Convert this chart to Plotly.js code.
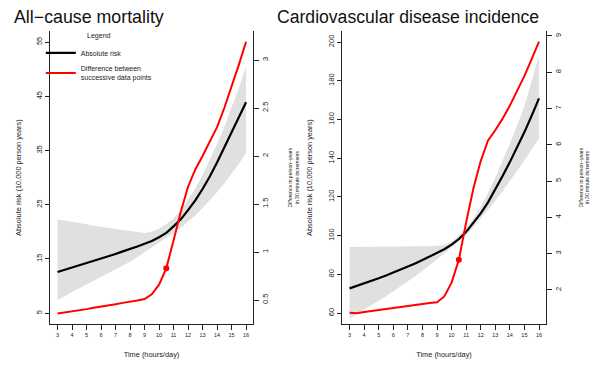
<!DOCTYPE html>
<html>
<head>
<meta charset="utf-8">
<script src="https://cdn.plot.ly/plotly-3.0.1.min.js"></script>
<style>html,body{margin:0;padding:0;background:#fff;}#chart{width:600px;height:365px;}</style>
</head>
<body>
<div id="chart"></div>
<script>
// Hours of sitting per day (half-hour steps)
const hours = [3,3.5,4,4.5,5,5.5,6,6.5,7,7.5,8,8.5,9,9.5,10,10.5,11,11.5,12,12.5,13,13.5,14,14.5,15,15.5,16];
const xTicks = [3,4,5,6,7,8,9,10,11,12,13,14,15,16];
const markHour = 10.5;

// All-cause mortality: absolute risk (per 10,000 person years) and 95% band
const mortRisk  = [12.6,13.0,13.5,13.9,14.3,14.7,15.1,15.5,15.9,16.4,16.8,17.3,17.8,18.3,19.0,19.8,21.0,22.3,24.0,25.8,27.9,30.2,32.8,35.5,38.4,41.1,43.9];
const mortUpper = [22.3,22.1,21.9,21.6,21.4,21.1,20.9,20.7,20.5,20.3,20.1,19.9,19.8,20.0,20.6,21.4,22.5,24.0,25.9,28.0,30.5,33.2,36.2,39.4,42.8,46.5,50.5];
const mortLower = [7.4,8.2,8.9,9.6,10.3,11.0,11.6,12.3,13.0,13.7,14.5,15.3,16.3,17.1,18.0,18.8,19.7,20.7,21.9,23.0,24.4,25.8,27.3,28.9,30.6,32.5,34.5];
// Difference between successive data points (per 30 min increments)
const mortDiff  = [0.36,0.37,0.38,0.39,0.405,0.42,0.43,0.445,0.455,0.47,0.48,0.495,0.51,0.56,0.66,0.83,1.12,1.42,1.68,1.86,2.0,2.15,2.3,2.5,2.72,2.95,3.19];

// Cardiovascular disease incidence
const cvdRisk  = [72.8,74.0,75.3,76.6,78.0,79.4,80.9,82.4,84.0,85.7,87.4,89.2,91.0,93.0,95.4,98.3,102.0,106.5,111.5,117.2,123.8,130.8,138.0,145.5,153.5,162.0,170.9];
const cvdUpper = [94.2,94.2,94.2,94.2,94.2,94.2,94.2,94.3,94.3,94.4,94.5,94.6,94.8,95.2,97.0,100.0,104.0,109.0,115.0,122.0,130.0,138.5,147.5,157.0,167.0,180.0,193.0];
const cvdLower = [57.3,59.5,61.8,64.0,66.4,68.8,71.3,73.8,76.3,79.0,81.8,84.8,88.0,91.0,93.6,97.0,100.3,104.3,108.9,113.3,118.0,123.0,128.0,133.5,139.0,144.5,150.2];
const cvdDiff  = [1.37,1.36,1.39,1.42,1.45,1.48,1.51,1.54,1.57,1.59,1.62,1.64,1.66,1.82,2.2,2.83,3.86,4.8,5.55,6.12,6.4,6.72,7.08,7.5,7.9,8.37,8.84];

const FONT = 'Liberation Sans, Arial, sans-serif';
const BAND = '#e0e0e0';
const RED = '#ff0000';
const mi = hours.indexOf(markHour);

function panel(xa, ya, ya2, risk, up, lo, diff, legend) {
  return [
    {x: hours, y: lo, xaxis: xa, yaxis: ya, type: 'scatter', mode: 'lines', line: {width: 0, color: BAND}, showlegend: false, hoverinfo: 'skip'},
    {x: hours, y: up, xaxis: xa, yaxis: ya, type: 'scatter', mode: 'lines', fill: 'tonexty', fillcolor: BAND, line: {width: 0, color: BAND}, showlegend: false, hoverinfo: 'skip'},
    {x: hours, y: risk, xaxis: xa, yaxis: ya, type: 'scatter', mode: 'lines', name: 'Absolute risk', line: {color: '#000000', width: 2.2}, showlegend: legend},
    {x: hours, y: diff, xaxis: xa, yaxis: ya2, type: 'scatter', mode: 'lines', name: 'Difference between<br>successive data points', line: {color: RED, width: 2}, showlegend: legend},
    {x: [hours[mi]], y: [diff[mi]], xaxis: xa, yaxis: ya2, type: 'scatter', mode: 'markers', marker: {color: RED, size: 6}, showlegend: false}
  ];
}

const data = [].concat(
  panel('x', 'y', 'y2', mortRisk, mortUpper, mortLower, mortDiff, true),
  panel('x2', 'y3', 'y4', cvdRisk, cvdUpper, cvdLower, cvdDiff, false)
);

const yDom = [0.1123, 0.9145];
const common = {showline: true, linecolor: '#222', linewidth: 1, ticks: 'outside', ticklen: 4, tickcolor: '#222', showgrid: false, zeroline: false};
function xax(dom, anchor) {
  return Object.assign({}, common, {domain: dom, anchor: anchor, range: [2.48, 16.48], tickvals: xTicks, ticktext: xTicks.map(String), tickfont: {size: 5.5, color: '#222', family: FONT}, ticklen: 5,
    title: {text: 'Time (hours/day)', font: {size: 7.4, color: '#222', family: FONT}, standoff: 15}});
}
function yleft(anchor, range, vals, std) {
  return Object.assign({}, common, {domain: yDom, anchor: anchor, range: range, tickvals: vals, tickangle: -90, tickfont: {size: 7.5, color: '#222', family: FONT},
    title: {text: 'Absolute risk (10,000 person years)', font: {size: 7.4, color: '#222', family: FONT}, standoff: std}});
}
function yright(anchor, over, range, vals, std) {
  return Object.assign({}, common, {anchor: anchor, overlaying: over, side: 'right', range: range, tickvals: vals, tickangle: -90, ticklen: 5, tickfont: {size: 7.5, color: '#222', family: FONT},
    title: {text: 'Difference in person\u2212years<br>in 30 minute increments', font: {size: 5, color: '#222', family: FONT}, standoff: std}});
}

const layout = {
  width: 600, height: 365,
  margin: {l: 0, r: 0, t: 0, b: 0},
  paper_bgcolor: '#ffffff', plot_bgcolor: 'rgba(0,0,0,0)',
  font: {family: FONT, color: '#222'},
  showlegend: true,
  legend: {x: 0.068, y: 0.92, xanchor: 'left', yanchor: 'top', bgcolor: 'rgba(0,0,0,0)', borderwidth: 0, traceorder: 'normal',
    font: {size: 7, color: '#222', family: FONT}, itemwidth: 30, tracegroupgap: 0,
    title: {text: 'Legend', side: 'top center', font: {size: 7, color: '#222', family: FONT}}},
  xaxis: xax([0.0833, 0.4217], 'y'),
  yaxis: yleft('x', [3, 57], [5, 15, 25, 35, 45, 55], 12),
  yaxis2: yright('x', 'y', [0.25, 3.3], [0.5, 1.0, 1.5, 2.0, 2.5, 3.0], 19),
  xaxis2: xax([0.57, 0.91], 'y3'),
  yaxis3: yleft('x2', [54.4, 205.6], [60, 80, 100, 120, 140, 160, 180, 200], 13),
  yaxis4: yright('x2', 'y3', [1.06, 9.13], [2, 3, 4, 5, 6, 7, 8, 9], 17),
  annotations: [
    {text: 'All\u2212cause mortality', xref: 'paper', yref: 'paper', x: 12/600, y: 1 - 17/365, xanchor: 'left', yanchor: 'middle', showarrow: false, font: {size: 17.8, color: '#111', family: FONT}},
    {text: 'Cardiovascular disease incidence', xref: 'paper', yref: 'paper', x: 275/600, y: 1 - 17/365, xanchor: 'left', yanchor: 'middle', showarrow: false, font: {size: 17.6, color: '#111', family: FONT}}
  ]
};

Plotly.newPlot('chart', data, layout, {displayModeBar: false, staticPlot: true});
</script>
</body>
</html>
